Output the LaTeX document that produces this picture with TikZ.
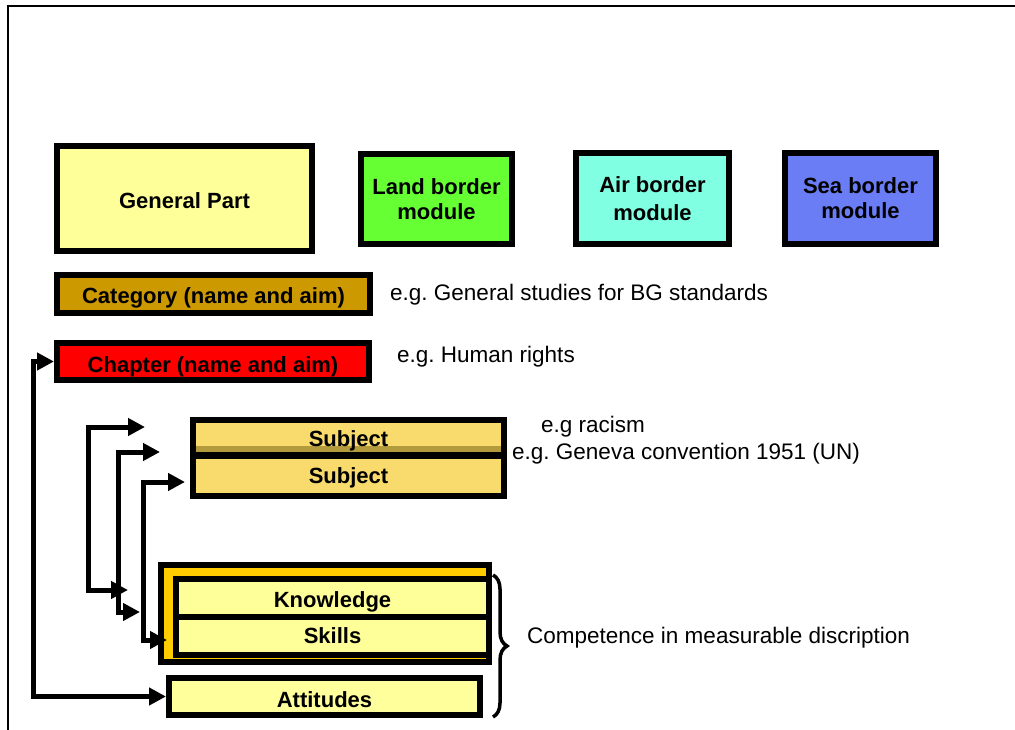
\documentclass[tikz,border=0pt]{standalone}
\usepackage{fontspec}
\setmainfont{Liberation Sans}
\usetikzlibrary{arrows.meta,decorations.pathreplacing}
\definecolor{genyellow}{HTML}{FFFF99}
\definecolor{landgreen}{HTML}{66FF33}
\definecolor{airaqua}{HTML}{80FFE2}
\definecolor{seablue}{HTML}{6A7DF5}
\definecolor{catbrown}{HTML}{CC9900}
\definecolor{chapred}{HTML}{FF0000}
\definecolor{subj}{HTML}{F9DA6C}
\definecolor{subjdark}{HTML}{B39A3C}
\definecolor{ksorange}{HTML}{FFCC00}
\definecolor{lightyellow}{HTML}{FFFF99}
\definecolor{attyellow}{HTML}{FFFF9C}
\newcommand{\lowr}[2]{\raisebox{-#1pt}[\height][\depth]{#2}}
\frenchspacing
\begin{document}
\begin{tikzpicture}[x=1pt,y=-1pt,
  box/.style={draw=black, line width=6pt, inner sep=0pt,
    font=\fontsize{22}{25}\selectfont\bfseries, align=center},
  conn/.style={line width=5pt,
    {Triangle[length=17pt,width=17pt]}-{Triangle[length=17pt,width=17pt]}},
  note/.style={anchor=base west, inner sep=0pt, font=\fontsize{22.5}{25}\selectfont}]
\useasboundingbox (0,0) rectangle (1015,730);
\fill[white] (0,0) rectangle (1015,730);
\draw[line width=2pt] (8,740) -- (8,6) -- (1030,6);

% top row
\node[box, fill=genyellow, minimum width=255pt, minimum height=105pt] (gen) at (184.5,198.5) {\lowr{2}{General Part}};
\node[box, fill=landgreen, minimum width=151pt, minimum height=90pt] (land) at (436.5,199) {Land border\\module};
\node[box, fill=airaqua, minimum width=153pt, minimum height=91pt] (air) at (652.5,198.5) {Air border\\[3pt]module};
\node[box, fill=seablue, minimum width=151pt, minimum height=91pt] (sea) at (860.5,198.5) {Sea border\\module};

% category and chapter
\node[box, fill=catbrown, minimum width=313pt, minimum height=38pt] (cat) at (213.5,294) {\lowr{4}{Category (name and aim)}};
\node[box, fill=chapred, minimum width=312pt, minimum height=37pt] (chap) at (213,361.5) {\lowr{5}{Chapter (name and aim)}};

% subjects
\node[box, fill=subj, minimum width=311pt, minimum height=35pt,
  path picture={\fill[subjdark] (path picture bounding box.south west) rectangle ([yshift=9pt]path picture bounding box.south east);}]
  (subj1) at (348.5,437.5) {\lowr{3}{Subject}};
\node[box, fill=subj, minimum width=311pt, minimum height=40pt] (subj2) at (348.5,475.5) {\lowr{2}{Subject}};

% competence group
\node[box, fill=ksorange, minimum width=328pt, minimum height=97pt] (ks) at (325,613.5) {};
\node[box, fill=lightyellow, minimum width=313pt, minimum height=38pt] (know) at (332.5,598) {\lowr{4}{Knowledge}};
\node[box, fill=lightyellow, minimum width=313pt, minimum height=37.5pt] (skills) at (332.5,635.75) {Skills};
\node[box, fill=attyellow, minimum width=311pt, minimum height=37pt] (att) at (324.5,696.5) {\lowr{3}{Attitudes}};

% notes
\node[note] (n1) at (390,301) {e.g. General studies for BG standards};
\node[note] (n2) at (397,362) {e.g. Human rights};
\node[note] (n3) at (541,432) {e.g racism};
\node[note] (n4) at (512,459) {e.g. Geneva convention 1951  (UN)};
\node[note] (n5) at (527,643) {Competence in measurable discription};

% brace
\coordinate (brt) at (493,575);
\coordinate (brb) at (493,717);
\draw[line width=3.5pt, decorate, decoration={brace, amplitude=14pt}] (brt) -- (brb);

% connectors
\coordinate (v0) at (33,500);
\draw[conn] (att.west) -| (v0) |- (chap.west);

\coordinate (b1) at (128,590);
\coordinate (t1) at (145,427);
\coordinate (v1) at (88,500);
\coordinate (b2) at (140,612);
\coordinate (t2) at (160,452);
\coordinate (v2) at (118.5,520);
\coordinate (b3) at (167,640);
\coordinate (t3) at (185,482);
\coordinate (v3) at (143,560);
\draw[conn] (b1) -| (v1) |- (t1);
\draw[conn] (b2) -| (v2) |- (t2);
\draw[conn] (b3) -| (v3) |- (t3);
\end{tikzpicture}
\end{document}
